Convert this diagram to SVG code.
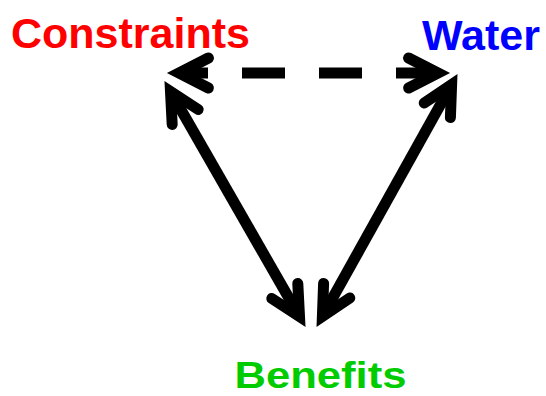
<svg xmlns="http://www.w3.org/2000/svg" width="546" height="396" viewBox="0 0 546 396">
  <style>
    .lbl { font-family: "Liberation Sans", Arial, sans-serif; font-weight: bold; }
    .shaft { fill: none; stroke: #000; stroke-width: 11; stroke-linecap: butt; }
    .dash { stroke-dasharray: 43 34; stroke-dashoffset: 14; }
    .head { fill: none; stroke: #000; stroke-width: 11; stroke-linecap: round; stroke-linejoin: miter; stroke-miterlimit: 10; }
  </style>
  <rect width="546" height="396" fill="#fff"/>
  <g id="connectors">
    <g id="constraints-water">
      <line class="shaft dash" x1="179" y1="73" x2="438" y2="73"/>
      <polyline class="head" points="208.4,58 179,73 208.4,88"/>
      <polyline class="head" points="408.6,58 438,73 408.6,88"/>
    </g>
    <g id="constraints-benefits">
      <line class="shaft" x1="170.5" y1="91.5" x2="299.5" y2="316.5"/>
      <polyline class="head" points="172.2,124.5 170.5,91.5 198.2,109.5"/>
      <polyline class="head" points="297.8,283.5 299.5,316.5 271.8,298.5"/>
    </g>
    <g id="water-benefits">
      <line class="shaft" x1="451.6" y1="84.6" x2="322.4" y2="316.4"/>
      <polyline class="head" points="424.2,103 451.6,84.6 450.4,117.6"/>
      <polyline class="head" points="349.8,298 322.4,316.4 323.6,283.4"/>
    </g>
  </g>
  <g id="constraints">
    <text class="lbl" x="11" y="48" font-size="43" fill="#ff0000">Constraints</text>
  </g>
  <g id="water">
    <text class="lbl" x="422" y="50" font-size="43" fill="#0000ff">Water</text>
  </g>
  <g id="benefits">
    <text class="lbl" x="234.5" y="388" font-size="36" fill="#00cc00" textLength="172" lengthAdjust="spacingAndGlyphs">Benefits</text>
  </g>
</svg>
